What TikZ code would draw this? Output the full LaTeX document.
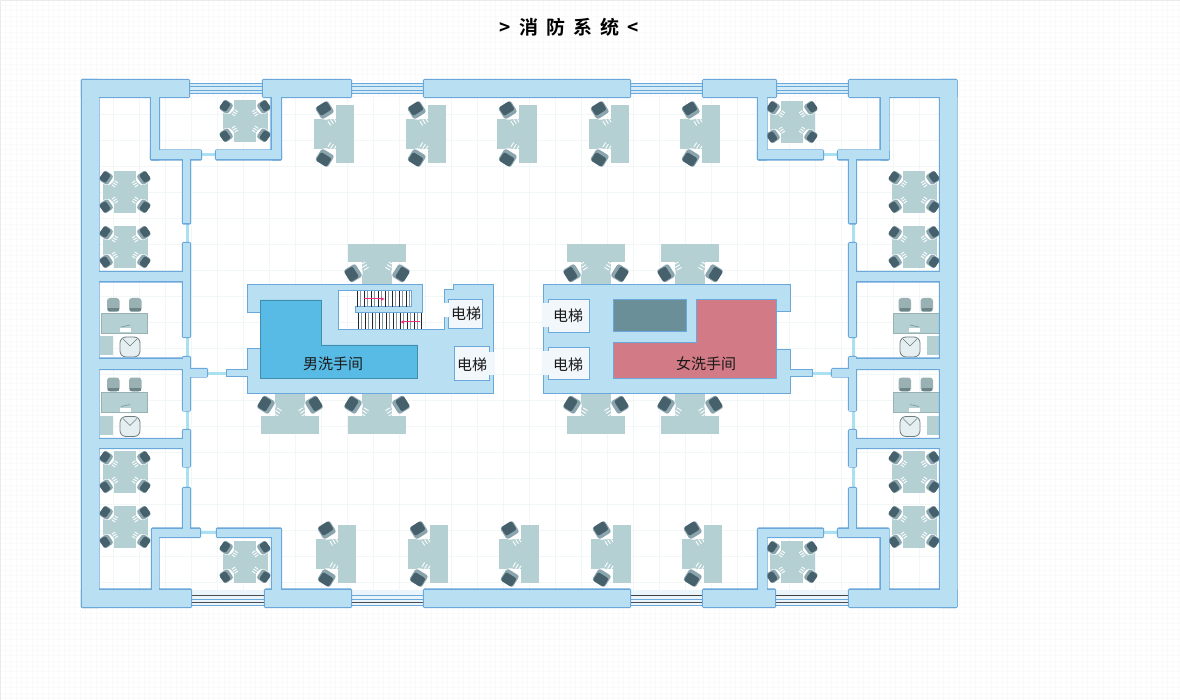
\documentclass[tikz,border=0pt]{standalone}
\usepackage{fontspec}
\setmainfont{Noto Sans CJK SC}[BoldFont={Noto Sans CJK SC Bold}]
\definecolor{wallfill}{HTML}{B8DFF2}
\definecolor{wallline}{HTML}{6AA7DA}
\definecolor{doorline}{HTML}{A9E0F2}
\definecolor{deskfill}{HTML}{B4D0D3}
\definecolor{chairdark}{HTML}{46606C}
\definecolor{chairlight}{HTML}{8AA5AE}
\definecolor{menroom}{HTML}{58BBE6}
\definecolor{womenroom}{HTML}{D27A85}
\definecolor{shaftfill}{HTML}{6A8F99}
\definecolor{liftfill}{HTML}{F1F7FA}
\definecolor{stairgray}{HTML}{7F9AA0}
\definecolor{stairarrow}{HTML}{EE2F80}
\definecolor{pagegrid}{HTML}{FAFAFA}
\definecolor{plangrid}{HTML}{F0F7F6}
\usetikzlibrary{arrows.meta}

% chair: x y angle(towards the desk) scale
\newcommand{\chairat}[4]{%
  \begin{scope}[shift={(#1,#2)},rotate=#3,scale=#4]
    \fill[white] (1,0) circle (8);
    \draw[deskstripe] (10,-3) -- (15,-3) (10,0) -- (15,0) (10,3) -- (15,3);
    \fill[chairlight,rounded corners=2.5pt] (-7,-7) rectangle (6,7);
    \fill[chairdark,rounded corners=2pt] (-7,-6) rectangle (2.5,6);
  \end{scope}}

\tikzset{
  deskstripe/.style={white,line width=0.9pt},
  desktop/.style={fill=deskfill,draw=none},
  labeltext/.style={font=\fontsize{15}{18}\selectfont,text=black!90,inner sep=0pt},
  % four seats round a cross shaped desk
  pics/crossdesk/.style={code={
    \fill[desktop] (-22.5,-11) rectangle (22.5,11);
    \fill[desktop] (-11,-21) rectangle (11,21);
    \chairat{-18.5}{-14}{-35}{0.82}
    \chairat{18.5}{-14}{-145}{0.82}
    \chairat{-18.5}{14}{35}{0.82}
    \chairat{18.5}{14}{145}{0.82}
  }},
  % two seats at a T shaped desk, the bar below
  pics/pairdesk/.style={code={
    \fill[desktop] (-15,-22) rectangle (15,0);
    \fill[desktop] (-29.3,0) rectangle (29.3,17.5);
    \chairat{-23.5}{-11}{-32}{1.05}
    \chairat{23.5}{-11}{-148}{1.05}
  }},
  % office room furniture
  pics/officedesk/.style={code={
    \foreach \cx in {7,29}{
      \fill[deskfill!85!black,rounded corners=3pt] (\cx,-15) rectangle (\cx+12.5,-1);
      \fill[stairgray!85!black] (\cx+1,-4.5) rectangle (\cx+11.5,-1.5);
    }
    \draw[fill=deskfill,draw=deskfill!85!black] (0.7,0) rectangle (46.7,20);
    \fill[white] (20,15) rectangle (31,19);
    \draw[stairgray,line width=0.7pt] (21,14) -- (30,12);
    \fill[deskfill] (0,23) rectangle (13,42);
    \draw[fill=liftfill!80!deskfill,draw=deskfill!60!black,rounded corners=6pt,line width=0.8pt] (20,24) rectangle (40,44);
    \draw[deskfill!60!black,line width=0.6pt] (23,26) -- (30,33) -- (37,26);
  }},
}

\begin{document}
\begin{tikzpicture}[x=1pt,y=-1pt,>=Latex]
  \useasboundingbox (0,0) rectangle (1180,700);

  % page background
  \fill[white] (0,0) rectangle (1180,700);
  \foreach \gx in {0,5.33,...,1180} \draw[pagegrid,line width=0.7pt] (\gx,0) -- (\gx,700);
  \foreach \gy in {0,5.33,...,700} \draw[pagegrid,line width=0.7pt] (0,\gy) -- (1180,\gy);
  \draw[black!8] (0,0) rectangle (1180,700);

  % title
  \node[font=\fontsize{19}{22}\selectfont\bfseries,inner sep=0pt] (title) at (569,27)
    {>\hspace{8pt}消\hspace{8pt}防\hspace{8pt}系\hspace{8pt}统\hspace{8pt}<};

  % floor and its grid
  \fill[white] (99,97) rectangle (940,590);
  \foreach \gx in {113,139,...,940} \draw[plangrid,line width=0.7pt] (\gx,97) -- (\gx,590);
  \foreach \gy in {114,140,...,590} \draw[plangrid,line width=0.7pt] (99,\gy) -- (940,\gy);

  % windows, top
  \foreach \wa/\wb in {189/263,351/424,630/703,776/849}{
    \fill[wallfill!60!white] (\wa,83) rectangle (\wb,94);
    \foreach \wy in {83,86.5,90,93.5}
      \draw[wallline,line width=0.9pt] (\wa,\wy) -- (\wb,\wy);
  }
  % windows, bottom
  \foreach \wa/\wb/\wc in {191/265/black!70,351/424/wallline,630/703/black!75,775/849/black!75}{
    \fill[wallfill!30!white] (\wa,590) rectangle (\wb,605);
    \draw[\wc,line width=0.9pt] (\wa,595) -- (\wb,595);
    \draw[wallline,line width=0.9pt] (\wa,599.5) -- (\wb,599.5);
    \draw[black!70,line width=0.9pt] (\wa,602.8) -- (\wb,602.8);
    \draw[wallline,line width=0.9pt] (\wa,605.7) -- (\wb,605.7);
  }

  % doors
  \foreach \da/\db/\dc/\dd in {201/155/216/155,823/155/838/155,200/532/217/532,823/532/838/532,
      207/373/226/373,812/373/832/373,
      187/223/187/243,187/337/187/357,187/410/187/430,187/466/187/488,
      853/223/853/243,853/337/853/357,853/410/853/430,853/466/853/488}
    \draw[doorline,line width=3pt] (\da,\db) -- (\dc,\dd);

  % desks along the top and the bottom
  \foreach \dx in {336,428,519,611,702} \pic[rotate=90] at (\dx,134) {pairdesk};
  \foreach \dx in {338,430,521,613,704} \pic[rotate=90] at (\dx,554) {pairdesk};

  % desks round the core
  \foreach \dx in {377,596,690} \pic[rotate=180] at (\dx,262) {pairdesk};
  \foreach \dx in {290,377,596,690} \pic at (\dx,416) {pairdesk};

  % corner rooms
  \foreach \dx/\dy in {245/121,125/192,125/247,125/472,125/527,245/562,
      792/122,914/192,914/247,914/472,914/527,792/562}
    \pic at (\dx,\dy) {crossdesk};

  % office rooms
  \foreach \dy in {313,392.5} {
    \pic at (100,\dy) {officedesk};
    \pic[xscale=-1] at (940,\dy) {officedesk};
  }

  % walls
  \def\wallrects{82/80/189/97,263/80/351/97,424/80/630/97,703/80/776/97,849/80/956.5/97,
    82/589.5/191/607,265/589.5/351/607,424/589.5/630/607,703/589.5/775/607,849/589.5/956.5/607,
    82/80/98.5/607,940/80/956.5/607,
    151/97/159/159.5,151/150.5/201/159.5,216/150.5/281/159.5,271.5/97/281/159.5,
    758/97/766.5/159.5,758/150.5/823/159.5,838/150.5/888.5/159.5,880.5/97/888.5/159.5,
    152/528.5/200/537,152/537/158.5/589.5,217/528.5/281/537,272/537/281/589.5,
    758/528.5/823/537,758/537/766.5/589.5,838/528.5/888.5/537,880.5/537/888.5/589.5,
    183/159/190/223.5,183/243/190/337,183/357/190/410.5,183/430/190/466.5,183/488/190/530,
    849/159/856/223.5,849/243/856/337,849/357/856/410.5,849/430/856/466.5,849/488/856/530,
    98/272/183/281.5,98/358.5/183/369,98/439/183/448,
    856/272/940/281.5,856/358.5/940/369,856/439/940/448,
    190/369/207/376.5,832/369/849/376.5}
  \foreach \xa/\ya/\xb/\yb in \wallrects
    \draw[wallline,line width=2.2pt,rounded corners=0.8pt] (\xa,\ya) rectangle (\xb,\yb);
  \foreach \xa/\ya/\xb/\yb in \wallrects
    \fill[wallfill] (\xa,\ya) rectangle (\xb,\yb);

  % left core
  \draw[fill=wallfill,draw=wallline,line width=1pt] (247.5,285) -- (422.5,285) -- (422.5,312.5)
    -- (355,312.5) -- (355,307) -- (411.5,307) -- (411.5,290.5) -- (338.5,290.5) -- (338.5,330)
    -- (444,330) -- (444,290) -- (453.3,290) -- (453.3,285) -- (493.3,285) -- (493.3,393)
    -- (247.5,393) -- (247.5,376.5) -- (226,376.5) -- (226,369) -- (247.5,369) -- (247.5,348.3)
    -- (260.5,348.3) -- (260.5,312.5) -- (247.5,312.5) -- cycle;
  \draw[fill=menroom,draw=menroom!75!black,line width=0.9pt] (260.5,300) -- (321.5,300) -- (321.5,345)
    -- (417.5,345) -- (417.5,378.3) -- (260.5,378.3) -- cycle;

  % stairs
  \foreach \sx in {357,364,...,410} \draw[black!85,line width=0.8pt] (\sx,291) -- (\sx,307);
  \foreach \sx in {360.5,367.5,...,410} \draw[stairgray,line width=1.4pt] (\sx,291) -- (\sx,307);
  \foreach \sx in {358,365,...,421} \draw[black!85,line width=0.8pt] (\sx,313) -- (\sx,330);
  \foreach \sx in {361.5,368.5,...,421} \draw[stairgray,line width=1.4pt] (\sx,313) -- (\sx,330);
  \draw[wallline,line width=1pt] (338.5,330) -- (444,330);
  \coordinate (upA) at (364,299);
  \coordinate (upB) at (385,299);
  \coordinate (downA) at (420,322);
  \coordinate (downB) at (400,322);
  \draw[->,stairarrow,line width=1pt,>={Latex[length=4pt,width=4pt]}] (upA) -- (upB);
  \draw[->,stairarrow,line width=1pt,>={Latex[length=4pt,width=4pt]}] (downA) -- (downB);

  % left lifts
  \draw[fill=liftfill,draw=wallline,line width=0.8pt] (448.3,299.3) rectangle (482.3,328.3);
  \fill[white] (443,303) rectangle (449,317);
  \draw[fill=liftfill,draw=wallline,line width=0.8pt] (454,346) rectangle (489,380.7);
  \fill[liftfill] (488,351.7) rectangle (494.5,375);

  % right core
  \draw[fill=wallfill,draw=wallline,line width=1pt] (543.3,285) -- (790.5,285) -- (790.5,311.5)
    -- (776.7,311.5) -- (776.7,349.3) -- (790.5,349.3) -- (790.5,369) -- (812,369) -- (812,376.5)
    -- (790.5,376.5) -- (790.5,393) -- (543.3,393) -- cycle;
  \draw[fill=shaftfill,draw=wallline,line width=0.9pt] (613.3,299.3) rectangle (686.7,331.7);
  \draw[fill=womenroom,draw=wallline,line width=0.9pt] (696.7,299.3) -- (776.7,299.3) -- (776.7,378.7)
    -- (613.3,378.7) -- (613.3,342.7) -- (696.7,342.7) -- cycle;

  % right lifts
  \draw[fill=liftfill,draw=wallline,line width=0.8pt] (548.3,299.3) rectangle (589.3,332.7);
  \fill[liftfill] (542,303.3) rectangle (549,327.3);
  \draw[fill=liftfill,draw=wallline,line width=0.8pt] (548.3,347.7) rectangle (589.3,379);
  \fill[liftfill] (542,351.3) rectangle (549,375);

  % labels
  \node[labeltext] (liftA) at (466,314) {电梯};
  \node[labeltext] (liftB) at (472,365) {电梯};
  \node[labeltext] (liftC) at (568,316) {电梯};
  \node[labeltext] (liftD) at (568,365) {电梯};
  \node[labeltext] (menWc) at (333,364) {男洗手间};
  \node[labeltext] (womenWc) at (706,364) {女洗手间};
\end{tikzpicture}
\end{document}
